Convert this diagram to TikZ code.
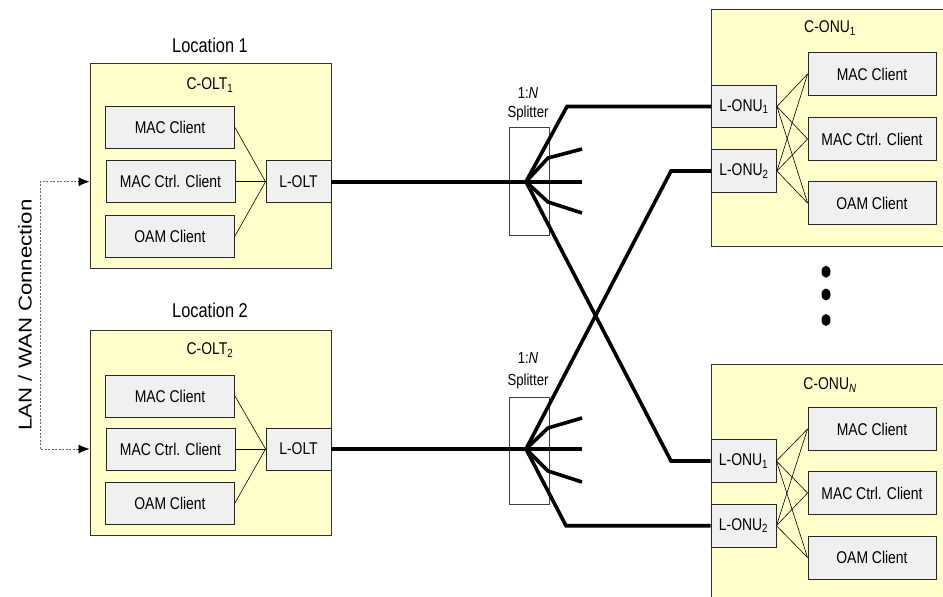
\documentclass[tikz,border=0pt]{standalone}
\usepackage{fontspec}
\setmainfont[FakeStretch=0.82]{Liberation Sans}
\newfontfamily\lanfont[FakeStretch=1.2]{Liberation Sans}
\usetikzlibrary{arrows.meta}
\definecolor{yellowbg}{HTML}{FFFFCC}
\definecolor{clientbg}{HTML}{F0F0F0}
\tikzset{
  cont/.style={draw=black!80, fill=yellowbg, line width=0.9pt, inner sep=0pt, rectangle},
  client/.style={draw=black!85, fill=clientbg, line width=0.9pt, minimum width=129pt, minimum height=42pt, inner sep=0pt, font=\fontsize{17}{19}\selectfont},
  lbox/.style={client, minimum width=65pt},
  lab/.style={inner sep=0pt, font=\fontsize{17}{19}\selectfont},
  loclab/.style={inner sep=0pt, font=\fontsize{20}{22}\selectfont},
  splab/.style={inner sep=0pt, font=\fontsize{16}{18}\selectfont},
  splitbox/.style={draw=black!75, line width=0.8pt, minimum width=40pt, minimum height=108pt, inner sep=0pt},
  thinline/.style={line width=0.6pt, black},
  fiber/.style={line width=3.6pt, black},
  dashline/.style={draw=black!60, line width=0.8pt, dash pattern=on 2pt off 1.5pt},
  headarrow/.style={black, line width=0.8pt, -{Latex[length=11pt,width=9pt]}}
}
\begin{document}
\begin{tikzpicture}[x=1pt, y=-1pt]
\useasboundingbox (0,0) rectangle (943,597);
\clip (0,0) rectangle (943,597);
\fill[white] (0,0) rectangle (943,597);

% ---------- Location 1 ----------
\node[loclab] (loc1) at (210,45) {Location 1};
\node[cont, minimum width=241pt, minimum height=205pt] (colt1) at (210.5,165.5) {};
\node[lab] (colt1l) at (210,85) {C-OLT\textsubscript{1}};
\node[client] (mac1) at (170,127.5) {MAC Client};
\node[client] (ctrl1) at (170.5,181.7) {MAC Ctrl. Client};
\node[client] (oam1) at (170,236) {OAM Client};
\node[lbox] (lolt1) at (298.5,181.7) {L-OLT};
\draw[thinline] (mac1.east) -- (lolt1.west);
\draw[thinline] (ctrl1.east) -- (lolt1.west);
\draw[thinline] (oam1.east) -- (lolt1.west);

% ---------- Location 2 ----------
\node[loclab] (loc2) at (210,310) {Location 2};
\node[cont, minimum width=241pt, minimum height=205pt] (colt2) at (210.5,433.4) {};
\node[lab] (colt2l) at (210,350) {C-OLT\textsubscript{2}};
\node[client] (mac2) at (170,396) {MAC Client};
\node[client] (ctrl2) at (170.5,449) {MAC Ctrl. Client};
\node[client] (oam2) at (170,503) {OAM Client};
\node[lbox] (lolt2) at (298.5,449) {L-OLT};
\draw[thinline] (mac2.east) -- (lolt2.west);
\draw[thinline] (ctrl2.east) -- (lolt2.west);
\draw[thinline] (oam2.east) -- (lolt2.west);

% ---------- LAN / WAN ----------
\node[rotate=90, inner sep=0pt, font=\lanfont\fontsize{18.5}{20}\selectfont] (lan) at (25,315) {LAN / WAN Connection};
\coordinate (dtop) at (40,181.7);
\coordinate (dbot) at (40,449);
\path (colt1.west |- dtop) coordinate (a1);
\path (colt2.west |- dbot) coordinate (a2);
\draw[dashline] ([xshift=-10pt]a1) -- (dtop) -- (dbot) -- ([xshift=-10pt]a2);
\draw[headarrow] ([xshift=-12pt]a1) -- (a1);
\draw[headarrow] ([xshift=-12pt]a2) -- (a2);

% ---------- C-ONU 1 ----------
\node[cont, minimum width=240pt, minimum height=236.7pt] (conu1) at (831.7,127.6) {};
\node[lab] (conu1l) at (830,28) {C-ONU\textsubscript{1}};
\node[client, minimum width=128pt, minimum height=43pt] (cmac1) at (872,74) {MAC Client};
\node[client, minimum width=128pt, minimum height=43pt] (cctrl1) at (872,139) {MAC Ctrl. Client};
\node[client, minimum width=128pt, minimum height=43pt] (coam1) at (872,203) {OAM Client};
\node[lbox] (lonu11) at (744,106.5) {L-ONU\textsubscript{1}};
\node[lbox, minimum height=43pt] (lonu12) at (744,171) {L-ONU\textsubscript{2}};
\foreach \a in {lonu11,lonu12}{
  \foreach \b in {cmac1,cctrl1,coam1}{
    \draw[thinline] (\a.east) -- (\b.west);
  }
}

% ---------- C-ONU N ----------
\node[cont, minimum width=240pt, minimum height=256pt] (conun) at (831,492.3) {};
\node[lab] (conunl) at (830,385) {C-ONU\textsubscript{\itshape N}};
\node[client, minimum width=128pt, minimum height=43pt] (nmac) at (872,429) {MAC Client};
\node[client, minimum width=128pt, minimum height=43pt] (nctrl) at (872,493) {MAC Ctrl. Client};
\node[client, minimum width=128pt, minimum height=43pt] (noam) at (872,557.5) {OAM Client};
\node[lbox, minimum height=43pt] (lonun1) at (743.5,461) {L-ONU\textsubscript{1}};
\node[lbox, minimum height=43pt] (lonun2) at (743.5,525.7) {L-ONU\textsubscript{2}};
\foreach \a in {lonun1,lonun2}{
  \foreach \b in {nmac,nctrl,noam}{
    \draw[thinline] (\a.east) -- (\b.west);
  }
}

% ---------- dots ----------
\fill (826,271.7) ellipse (4.5 and 6);
\fill (826,294.5) ellipse (4.5 and 6);
\fill (826,320) ellipse (4.5 and 6);

% ---------- Splitters ----------
\node[splab] (sp1n) at (528,93) {1:\textit{N}};
\node[splab] (sp1s) at (528,113) {Splitter};
\node[splitbox] (sp1) at (529,181) {};
\node[splab] (sp2n) at (528,358) {1:\textit{N}};
\node[splab] (sp2s) at (528,381.7) {Splitter};
\node[splitbox, minimum height=107pt] (sp2) at (529,450.5) {};

\coordinate (f1) at (526,181.7);
\coordinate (f2) at (526,449);

% fibers, splitter 1
\draw[fiber] (lolt1.east) -- (f1) -- (582,181.7);
\draw[fiber] (f1) -- (548,158) -- (582,149);
\draw[fiber] (f1) -- (548,202) -- (582,213);
\draw[fiber] (f1) -- (567,106.5) -- (lonu11.west);
\draw[fiber] (f1) -- (671,461) -- (lonun1.west);

% fibers, splitter 2
\draw[fiber] (lolt2.east) -- (f2) -- (582,449);
\draw[fiber] (f2) -- (548,428) -- (582,418);
\draw[fiber] (f2) -- (548,471) -- (582,482);
\draw[fiber] (f2) -- (566,525.7) -- (lonun2.west);
\draw[fiber] (f2) -- (671,171) -- (lonu12.west);

\end{tikzpicture}
\end{document}
